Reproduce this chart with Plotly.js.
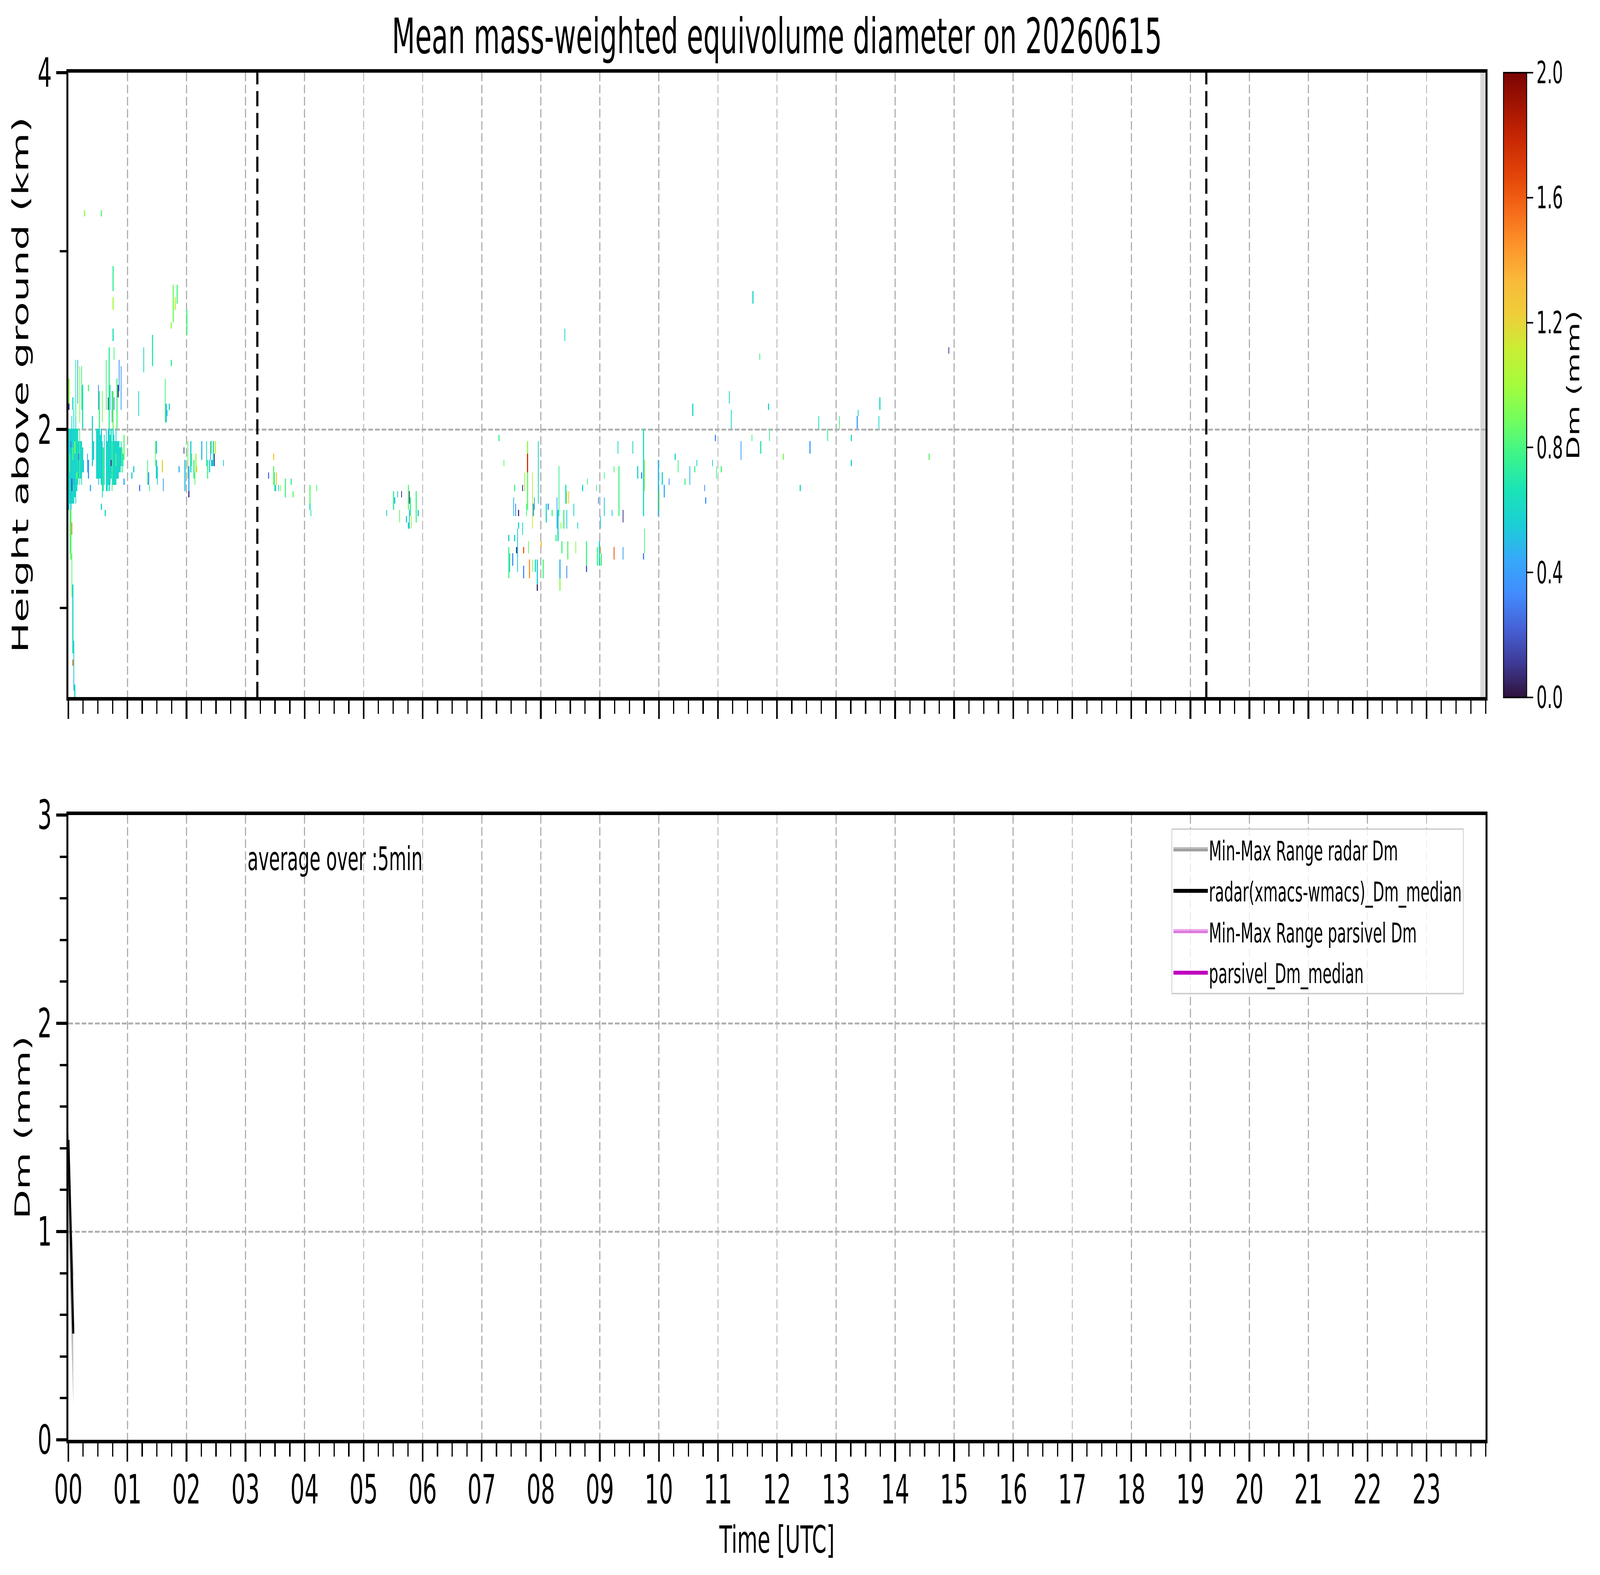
<!DOCTYPE html>
<html>
<head>
<meta charset="utf-8">
<script src="https://cdn.plot.ly/plotly-3.0.1.min.js"></script>
<style>html,body{margin:0;padding:0;background:#fff;overflow:hidden}#chart{width:7442px;height:4031px}</style>
</head>
<body>
<div id="chart"></div>
<script>
// ---------------- data ----------------
const xTickVals = [0,1,2,3,4,5,6,7,8,9,10,11,12,13,14,15,16,17,18,19,20,21,22,23];
const xTickText = ["00","01","02","03","04","05","06","07","08","09","10","11","12","13","14","15","16","17","18","19","20","21","22","23"];
const cbTickVals = [0.0,0.4,0.8,1.2,1.6,2.0];
const cbTickText = ["0.0","0.4","0.8","1.2","1.6","2.0"];
const markerTimes = [3.2, 19.27];          // black dashed vertical lines (h UTC)
const noDataSpan = [23.91, 24];            // grey "no data" band (h UTC)

// bottom panel, 5-min averages (hours UTC, mm)
const radarTime   = [0.0, 0.083];
const radarMedian = [1.44, 0.51];
const radarMin    = [1.00, 0.17];
const radarMax    = [1.47, 0.79];
const parsivelTime   = [null];
const parsivelMedian = [null];
const parsivelMin    = [null];
const parsivelMax    = [null];

// top panel: radar Dm cells [startMinute, endMinute, bottomKm, topKm, Dm mm]
const dmCells = [
 // 00:00-00:16
 [0,1,1.55,2.02,0.58],[0,1,2.10,2.14,0.08],[0,1,2.14,2.30,0.95],
 [1,2,1.58,2.02,0.62],[1,2,1.75,1.85,0.85],[1,2,1.30,1.55,0.80],
 [2,3,1.55,2.02,0.55],[2,3,1.90,1.95,0.30],[2,3,1.28,1.55,0.85],
 [3,4,1.59,2.06,0.60],[3,4,1.66,1.72,0.10],[3,4,1.42,1.49,1.50],[3,4,1.05,1.30,0.85],
 [4,5,1.60,2.02,0.58],[4,5,1.83,1.90,0.80],[4,5,2.10,2.17,0.62],[4,5,0.90,1.12,0.58],[4,5,0.76,0.90,0.62],[4,5,0.68,0.72,1.50],
 [5,6,1.58,2.10,0.60],[5,6,1.70,1.74,0.35],[5,6,0.62,0.80,0.55],[5,6,0.55,0.62,0.45],
 [6,7,1.62,2.02,0.57],[6,7,1.87,1.95,0.90],[6,7,0.50,0.58,0.60],
 [7,8,1.59,2.06,0.62],[7,8,2.06,2.40,0.75],
 [8,9,1.66,1.99,0.60],[8,9,1.72,1.77,0.85],
 [9,10,1.70,1.99,0.65],[9,10,2.15,2.39,0.45],
 [10,11,1.72,1.95,0.55],[10,11,1.82,1.86,0.30],
 [11,12,1.68,1.99,0.80],[11,12,2.05,2.35,0.95],
 [12,13,1.72,1.92,0.58],
 [13,14,1.70,1.95,0.62],[13,14,2.10,2.34,0.78],
 [14,15,1.75,1.90,0.60],[14,15,2.02,2.25,0.65],
 [15,16,1.77,1.84,0.50],
 [16,17,3.18,3.22,0.95],
 // 00:19-00:58
 [19,20,1.77,1.88,0.45],[20,21,1.74,1.84,0.35],[20,21,2.22,2.26,0.80],[22,23,1.66,1.70,0.45],
 [24,25,1.81,2.06,0.60],[25,26,1.84,1.95,0.55],
 [28,29,1.74,1.99,0.60],[29,30,1.72,2.02,0.58],
 [30,31,1.69,1.99,0.62],[30,31,2.10,2.25,0.35],
 [31,32,1.74,2.00,0.60],[31,32,2.00,2.20,0.80],
 [32,33,1.72,1.97,0.58],
 [33,34,1.70,1.99,0.55],[33,34,1.55,1.60,0.60],[33,34,3.18,3.22,0.85],
 [34,35,1.62,1.95,0.62],[34,35,2.05,2.20,0.90],
 [35,36,1.66,1.90,0.75],[36,37,1.69,1.97,0.58],[37,38,1.50,1.56,0.60],
 [38,39,1.67,2.00,0.60],[38,39,2.10,2.40,0.80],
 [39,40,1.65,1.95,0.62],
 [40,41,1.70,2.02,0.55],[40,41,2.12,2.17,0.10],
 [41,42,1.66,2.00,0.60],[41,42,2.00,2.45,0.75],
 [42,43,1.70,1.98,0.58],[42,43,2.10,2.25,0.65],
 [43,44,1.72,2.00,0.62],[43,44,1.80,1.84,0.10],
 [44,45,1.66,1.92,0.80],[44,45,2.05,2.22,0.50],
 [45,46,1.70,2.02,0.60],[45,46,2.02,2.20,0.90],[45,46,2.78,2.93,0.75],[45,46,2.68,2.75,1.00],[45,46,2.50,2.56,0.65],
 [46,47,1.69,1.97,0.58],[46,47,2.12,2.19,0.35],[46,47,2.39,2.46,0.80],
 [47,48,1.69,1.95,0.62],
 [48,49,1.69,1.99,0.60],[48,49,1.80,1.85,0.85],
 [49,50,1.72,1.95,0.58],[49,50,2.00,2.27,0.80],
 [50,51,1.72,1.92,0.60],[50,51,2.18,2.24,0.10],
 [51,52,1.75,1.92,0.62],[51,52,2.20,2.38,0.35],
 [52,53,1.75,1.90,0.55],
 [53,54,1.78,1.95,0.60],[53,54,2.10,2.34,0.40],
 [54,55,1.75,1.90,0.80],[55,56,1.80,1.87,0.58],
 [56,57,1.82,1.97,0.85],[56,57,1.68,1.74,0.40],
 // 01:00-02:40
 [64,65,1.74,1.77,0.55],[66,67,1.77,1.81,0.60],[71,72,2.06,2.20,0.60],[72,73,1.66,1.70,0.30],
 [76,77,2.32,2.45,0.60],[80,81,1.70,1.82,0.80],[81,82,1.69,1.77,0.40],[82,83,1.66,1.70,0.80],
 [85,86,2.35,2.53,0.70],[88,89,1.79,1.95,0.85],[89,90,1.74,1.84,0.60],[89,90,1.88,1.92,0.58],
 [90,91,1.70,1.80,0.55],[95,96,1.77,1.84,1.20],[96,97,1.67,1.72,0.40],
 [98,99,2.03,2.28,0.80],[99,100,2.03,2.15,0.50],[100,101,2.06,2.10,0.55],[102,103,2.10,2.14,0.60],
 [104,105,2.35,2.39,0.75],[104,105,2.55,2.60,0.95],[106,107,2.60,2.82,0.90],[108,109,2.66,2.75,1.05],[110,111,2.70,2.82,0.80],
 [112,113,1.77,1.80,0.50],[117,118,1.86,1.90,0.10],[118,119,1.66,1.84,0.50],[120,121,2.54,2.67,0.80],
 [121,122,1.72,1.92,0.85],[122,123,1.66,1.80,0.40],[122,123,1.62,1.66,0.08],
 [124,125,1.77,1.92,0.55],[125,126,1.80,1.86,0.90],[127,128,1.74,1.84,0.75],
 [128,129,1.70,1.77,0.85],[129,130,1.77,1.85,0.95],[130,131,1.77,1.80,1.20],
 [135,136,1.84,1.92,0.50],[140,141,1.80,1.92,0.60],[141,142,1.74,1.84,0.80],[143,144,1.77,1.84,0.60],
 [144,145,1.84,1.92,0.40],[145,146,1.78,1.84,0.55],[145,146,1.86,1.92,0.90],[146,147,1.80,1.84,0.35],
 [147,148,1.78,1.92,0.60],[148,149,1.80,1.86,0.10],[149,150,1.86,1.92,1.10],[157,158,1.80,1.84,0.60],
 // 03:20-04:15
 [203,204,1.73,1.77,0.30],[208,209,1.84,1.88,1.25],[208,209,1.70,1.80,0.85],[209,210,1.66,1.77,0.80],
 [210,211,1.66,1.70,0.55],[211,212,1.70,1.77,1.35],[213,214,1.66,1.70,0.60],[215,216,1.66,1.70,0.95],
 [220,221,1.62,1.73,0.80],[226,227,1.70,1.73,0.75],[228,229,1.62,1.66,0.85],
 [245,246,1.58,1.70,0.85],[245,246,1.55,1.58,0.62],[246,247,1.51,1.55,0.70],[252,253,1.66,1.70,0.80],
 // 05:20-05:56
 [323,324,1.51,1.55,0.58],[330,331,1.55,1.66,0.75],[331,332,1.58,1.62,0.55],[334,335,1.62,1.66,0.55],
 [336,337,1.47,1.55,0.85],[338,339,1.62,1.66,0.08],[343,344,1.47,1.51,0.60],[345,346,1.55,1.70,0.85],
 [345,346,1.44,1.47,0.60],[346,347,1.58,1.66,0.10],[346,347,1.44,1.55,0.50],[347,348,1.51,1.62,0.75],
 [348,349,1.44,1.51,1.00],[353,354,1.47,1.66,0.80],[355,356,1.51,1.55,0.50],
 // 07:17-10:00
 [437,438,1.92,1.95,0.78],[442,443,1.81,1.84,0.85],[447,448,1.37,1.41,0.55],[447,448,1.15,1.33,0.80],
 [448,449,1.20,1.30,0.55],[451,452,1.22,1.30,0.35],[452,453,1.51,1.62,0.50],[453,454,1.66,1.70,0.78],
 [453,454,1.37,1.41,0.55],[454,455,1.51,1.59,0.30],[455,456,1.29,1.33,0.10],[456,457,1.19,1.44,0.55],
 [457,458,1.51,1.55,0.10],[457,458,1.44,1.48,0.60],[461,462,1.66,1.70,0.06],
 [461,462,1.41,1.48,0.60],[462,463,1.30,1.33,1.60],[462,463,1.15,1.22,0.35],[463,464,1.66,1.77,1.00],
 [465,466,1.51,1.59,0.80],[466,467,1.76,1.88,1.75],[466,467,1.88,1.92,0.95],[466,467,1.55,1.76,0.85],
 [467,468,1.30,1.37,0.85],[468,469,1.15,1.26,1.45],
 [471,472,1.44,1.77,1.10],[471,472,1.19,1.26,0.95],[472,473,1.50,1.60,0.40],[473,474,1.55,1.62,0.40],
 [474,475,1.19,1.26,0.60],[476,477,1.14,1.26,0.55],
 [476,477,1.11,1.14,0.06],[477,478,1.59,1.92,0.60],[480,481,1.33,1.37,1.30],[482,483,1.15,1.26,0.80],
 [485,486,1.48,1.59,0.60],[487,488,1.55,1.59,0.35],[491,492,1.51,1.55,0.80],[495,496,1.37,1.41,0.78],
 [496,497,1.44,1.62,0.45],[497,498,1.37,1.55,0.60],[498,499,1.51,1.81,0.75],[499,500,1.15,1.26,0.45],[499,500,1.11,1.15,0.95],
 [500,501,1.44,1.48,0.95],[501,502,1.30,1.37,0.80],[503,504,1.44,1.55,0.80],[504,505,2.50,2.57,0.60],
 [505,506,1.59,1.70,0.65],[506,507,1.59,1.66,1.10],[506,507,1.44,1.55,0.55],[506,507,1.15,1.22,0.30],[507,508,1.26,1.37,0.85],
 [508,509,1.59,1.66,1.30],[513,514,1.51,1.59,0.58],[515,516,1.30,1.37,0.95],[517,518,1.44,1.48,0.60],
 [522,523,1.66,1.70,0.60],[526,527,1.22,1.37,0.78],[526,527,1.19,1.22,0.20],[527,528,1.70,1.74,0.80],
 [536,537,1.66,1.70,0.80],[537,538,1.22,1.33,0.80],[538,539,1.59,1.62,0.35],[539,540,1.22,1.37,0.60],[540,541,1.30,1.33,1.50],
 [540,541,1.44,1.51,0.55],[541,542,1.22,1.30,0.80],[544,545,1.74,1.77,0.80],[544,545,1.51,1.62,0.55],
 [552,553,1.51,1.55,0.55],[554,555,1.26,1.33,1.65],[554,555,1.77,1.81,0.80],[558,559,1.88,1.95,0.60],
 [559,560,1.51,1.81,0.80],[563,564,1.47,1.55,0.10],[563,564,1.26,1.33,0.40],[573,574,1.88,1.95,0.60],
 [578,579,1.74,1.81,0.60],[582,583,1.74,1.77,0.30],[584,585,1.51,2.02,0.65],[585,586,1.66,1.84,0.95],
 [585,586,1.30,1.44,0.80],[584,585,1.26,1.30,0.30],[599,600,1.51,1.84,0.50],[600,601,1.55,1.66,1.15],
 // 10:00-14:00
 [603,604,1.70,1.77,0.60],[605,606,1.62,1.70,0.45],[610,611,1.70,1.74,0.35],[616,617,1.84,1.88,0.60],
 [619,620,1.77,1.84,0.80],[626,627,1.70,1.74,0.80],[631,632,1.70,1.81,0.50],[634,635,2.06,2.13,0.60],
 [636,637,1.77,1.81,0.80],[638,639,1.81,1.84,0.60],[646,647,1.66,1.70,0.35],[647,648,1.59,1.62,0.35],
 [654,655,1.81,1.84,0.58],[657,658,1.92,1.95,0.35],[658,659,1.74,1.81,0.80],[663,664,1.77,1.81,0.80],
 [671,672,2.13,2.21,0.60],[673,674,2.02,2.10,0.60],[683,684,1.84,1.92,0.40],[694,695,1.92,1.95,0.80],
 [695,696,2.70,2.76,0.60],[702,703,2.39,2.42,0.75],[703,704,1.88,1.95,0.70],[711,712,2.10,2.13,0.60],
 [712,713,1.92,2.02,0.78],[726,727,1.84,1.88,0.90],[743,744,1.66,1.70,0.60],[753,754,1.88,1.92,0.40],
 [762,763,2.02,2.06,0.62],[771,772,1.92,1.99,0.75],[783,784,2.02,2.06,0.80],[795,796,1.92,1.95,0.62],
 [795,796,1.81,1.84,0.60],[801,802,1.99,2.06,0.40],[802,803,2.06,2.10,0.60],[823,824,2.02,2.06,0.60],
 [824,825,2.10,2.17,0.60],
 // after 14:00
 [874,875,1.84,1.88,0.85],[894,895,2.42,2.46,0.10]
];

// ---------------- grid built from the cell list ----------------
const yMin = 0.5, yMax = 4.0, dy = 0.035, nY = 100, nX = 1440;
const xEdges = [];
for (let i = 0; i <= nX; i++) xEdges.push(i / 60);
const yEdges = [];
for (let k = 0; k <= nY; k++) yEdges.push(+(yMin + k * dy).toFixed(4));
const zGrid = [];
for (let k = 0; k < nY; k++) zGrid.push(new Array(nX).fill(null));
dmCells.forEach(([m0, m1, h0, h1, v]) => {
  const k0 = Math.round((h0 - yMin) / dy);
  const k1 = Math.max(k0 + 1, Math.round((h1 - yMin) / dy));
  for (let m = m0; m < m1; m++)
    for (let k = Math.max(0, k0); k < Math.min(nY, k1); k++) zGrid[k][m] = v;
});

const turbo = [
 [0.000,'#30123b'],[0.055,'#3e3a96'],[0.111,'#4662d7'],[0.167,'#428cfe'],[0.222,'#36aaf9'],
 [0.278,'#1bcfd4'],[0.333,'#1ae4b6'],[0.389,'#3ef58a'],[0.444,'#72fe5e'],[0.500,'#a4fc3c'],
 [0.556,'#c8ef34'],[0.611,'#eecf3a'],[0.667,'#faba39'],[0.722,'#fd952b'],[0.778,'#f66b19'],
 [0.833,'#e4460a'],[0.889,'#cb2a04'],[0.944,'#a51501'],[1.000,'#7a0403']
];

// ---------------- geometry (design size of the reference) ----------------
const W = 7442, H = 4031;
const M = {l:318, r:532, t:186, b:346};
const plotH = H - M.t - M.b, plotW = W - M.l - M.r;
const topDomain = [(H - M.b - 1784) / plotH, 1];
const botDomain = [0, (H - M.b - 2086) / plotH];
const FONT = 'DejaVu Sans';
const GREY_FILL = 'rgba(128,128,128,0.5)', PINK_FILL = 'rgba(191,0,191,0.3)';

const grid = {showgrid:true, gridcolor:'#b0b0b0', gridwidth:5, griddash:'22px,9px', zeroline:false};
const axLine = {showline:true, linecolor:'#000', linewidth:9, mirror:true,
  ticks:'outside', tickcolor:'#000', tickwidth:8, ticklen:47,
  tickfont:{family:FONT, size:104, color:'#000'}};
const xMinor = {tickmode:'linear', tick0:0, dtick:0.25, ticks:'outside', ticklen:34, tickwidth:6, tickcolor:'#000', showgrid:false};

const traces = [
 {type:'heatmap', x:xEdges, y:yEdges, z:zGrid, xaxis:'x', yaxis:'y',
  zmin:0, zmax:2, colorscale:turbo, zsmooth:false, hoverinfo:'skip', showlegend:false,
  colorbar:{x:(6993 - M.l) / plotW, xanchor:'left', xpad:0, ypad:0,
    y:(H - M.b - 985.5) / plotH, yanchor:'middle', len:(1785 - 186) / plotH, lenmode:'fraction',
    thickness:108, thicknessmode:'pixels', outlinewidth:4, outlinecolor:'#000',
    ticks:'outside', ticklen:28, tickwidth:4, tickcolor:'#000',
    tickmode:'array', tickvals:cbTickVals, ticktext:cbTickText,
    tickfont:{family:FONT, size:78, color:'#000'},
    title:{text:'Dm (mm)', side:'right', font:{family:FONT, size:80, color:'#000'}}}},
 // radar min-max band
 {type:'scatter', mode:'lines', x:radarTime, y:radarMin, xaxis:'x2', yaxis:'y2',
  line:{width:0, color:GREY_FILL}, showlegend:false, legendgroup:'g1', hoverinfo:'skip'},
 {type:'scatter', mode:'lines', x:radarTime, y:radarMax, xaxis:'x2', yaxis:'y2',
  fill:'tonexty', fillcolor:GREY_FILL, line:{width:3, color:GREY_FILL},
  showlegend:false, legendgroup:'g1', hoverinfo:'skip'},
 // legend entry of the band (no marks of its own)
 {type:'scatter', mode:'lines', x:[null], y:[null], xaxis:'x2', yaxis:'y2',
  fill:'toself', fillcolor:GREY_FILL, line:{width:10, color:'rgba(128,128,128,0.55)'},
  name:'Min-Max Range radar Dm', legendgroup:'g1', hoverinfo:'skip'},
 {type:'scatter', mode:'lines', x:radarTime, y:radarMedian, xaxis:'x2', yaxis:'y2',
  line:{width:10, color:'#000'}, name:'radar(xmacs-wmacs)_Dm_median', legendgroup:'g2'},
 // parsivel min-max band (no data on this day)
 {type:'scatter', mode:'lines', x:parsivelTime, y:parsivelMin, xaxis:'x2', yaxis:'y2',
  line:{width:0, color:PINK_FILL}, showlegend:false, legendgroup:'g3', hoverinfo:'skip'},
 {type:'scatter', mode:'lines', x:parsivelTime, y:parsivelMax, xaxis:'x2', yaxis:'y2',
  fill:'tonexty', fillcolor:PINK_FILL, line:{width:10, color:'rgba(191,0,191,0.35)'},
  name:'Min-Max Range parsivel Dm', legendgroup:'g3', hoverinfo:'skip'},
 {type:'scatter', mode:'lines', x:parsivelTime, y:parsivelMedian, xaxis:'x2', yaxis:'y2',
  line:{width:10, color:'#bf00bf'}, name:'parsivel_Dm_median', legendgroup:'g4'}
];

const shapes = [
 {type:'rect', xref:'x', yref:'paper', x0:noDataSpan[0], x1:noDataSpan[1], y0:topDomain[0], y1:topDomain[1],
  fillcolor:'#d9d9d9', line:{width:0}, layer:'below'}
].concat(markerTimes.map(t => ({type:'line', xref:'x', yref:'paper', x0:t, x1:t, y0:topDomain[0], y1:topDomain[1],
  line:{color:'#000', width:10, dash:'39px,17px'}, layer:'above'})));

const layout = {
 width:W, height:H, margin:M, paper_bgcolor:'#fff', plot_bgcolor:'rgba(0,0,0,0)',
 font:{family:FONT, color:'#000', size:69},
 title:{text:'Mean mass-weighted equivolume diameter on 20260615', font:{family:FONT, size:125, color:'#000'},
   x:0.5, xref:'paper', xanchor:'center', y:1 - 92 / H, yref:'container', yanchor:'middle'},
 showlegend:true,
 legend:{x:(5449 - M.l) / plotW, xanchor:'left', y:(H - M.b - 2120) / plotH, yanchor:'top',
   bgcolor:'rgba(255,255,255,0.8)', bordercolor:'#d0d0d0', borderwidth:4,
   font:{family:FONT, size:69, color:'#000'}, itemwidth:160, tracegroupgap:12, traceorder:'grouped'},
 xaxis:Object.assign({}, grid, axLine, {domain:[0,1], anchor:'y', range:[0,24],
   tickmode:'array', tickvals:xTickVals, ticktext:xTickText, showticklabels:false, minor:xMinor}),
 yaxis:Object.assign({}, grid, axLine, {domain:topDomain, anchor:'x', range:[yMin, yMax],
   tickmode:'array', tickvals:[2,4], ticktext:['2','4'],
   minor:{tickmode:'array', tickvals:[1,3], ticks:'outside', ticklen:31, tickwidth:6, tickcolor:'#000', showgrid:false},
   title:{text:'Height above ground (km)', font:{family:FONT, size:104, color:'#000'}, standoff:12}}),
 xaxis2:Object.assign({}, grid, axLine, {domain:[0,1], anchor:'y2', range:[0,24],
   tickmode:'array', tickvals:xTickVals, ticktext:xTickText, minor:xMinor, ticklabelstandoff:-18,
   title:{text:'Time [UTC]', font:{family:FONT, size:97, color:'#000'}, standoff:38}}),
 yaxis2:Object.assign({}, grid, axLine, {domain:botDomain, anchor:'x2', range:[0,3],
   tickmode:'array', tickvals:[0,1,2,3], ticktext:['0','1','2','3'],
   minor:{tickmode:'linear', tick0:0, dtick:0.2, ticks:'outside', ticklen:31, tickwidth:6, tickcolor:'#000', showgrid:false},
   title:{text:'Dm (mm)', font:{family:FONT, size:98, color:'#000'}, standoff:8}}),
 shapes:shapes,
 annotations:[{text:'average over :5min', xref:'paper', yref:'paper',
   x:(1149 - M.l) / plotW, y:(H - M.b - 2198) / plotH, xanchor:'left', yanchor:'middle',
   showarrow:false, font:{family:FONT, size:83, color:'#000'}}]
};

// The browser window may be narrower than the design size: scale the finished chart to fit it.
function fitToWindow() {
  const el = document.getElementById('chart');
  const sx = Math.min(1, window.innerWidth / W), sy = Math.min(1, window.innerHeight / H);
  el.style.transformOrigin = '0 0';
  el.style.transform = 'scale(' + sx + ',' + sy + ')';
}
Plotly.newPlot('chart', traces, layout, {displayModeBar:false}).then(fitToWindow);
fitToWindow();
</script>
</body>
</html>
